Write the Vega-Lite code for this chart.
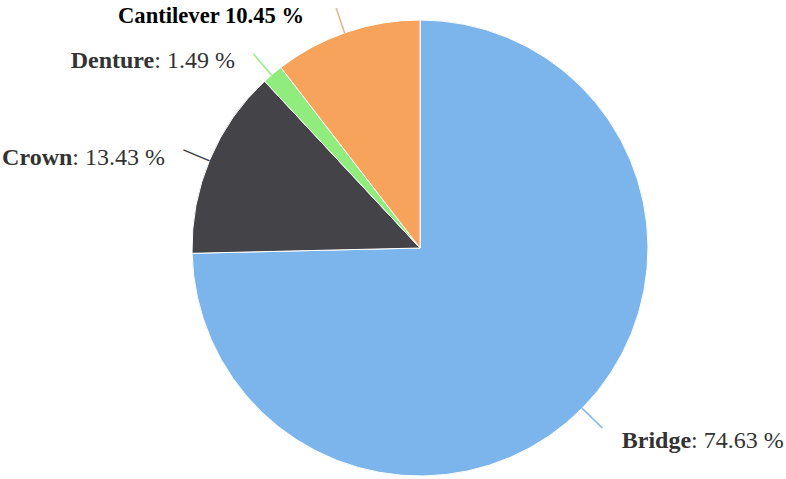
{
  "$schema": "https://vega.github.io/schema/vega-lite/v6.json",
  "width": 732,
  "height": 462,
  "autosize": {"type": "none"},
  "padding": {"left": 54, "top": 17, "right": 0, "bottom": 0},
  "background": "#ffffff",
  "view": {"stroke": null},
  "config": {"text": {"font": "Liberation Serif"}, "font": "Liberation Serif"},
  "data": {
    "values": [
      {"category": "Bridge", "value": 74.63, "rank": 1},
      {"category": "Crown", "value": 13.43, "rank": 2},
      {"category": "Denture", "value": 1.49, "rank": 3},
      {"category": "Cantilever", "value": 10.45, "rank": 4}
    ]
  },
  "transform": [
    {"calculate": "': ' + format(datum.value, '.2f') + ' %'", "as": "valueLabel"},
    {"calculate": "datum.category + ' ' + format(datum.value, '.2f') + ' %'", "as": "fullLabel"}
  ],
  "encoding": {
    "theta": {"field": "value", "type": "quantitative", "stack": true},
    "order": {"field": "rank", "type": "quantitative"},
    "detail": {"field": "category", "type": "nominal"}
  },
  "layer": [
    {
      "mark": {"type": "arc", "radius": 228, "stroke": "#ffffff", "strokeWidth": 1},
      "encoding": {
        "color": {
          "field": "category",
          "type": "nominal",
          "scale": {"domain": ["Bridge", "Crown", "Denture", "Cantilever"], "range": ["#7cb5ec", "#434348", "#90ed7d", "#f7a35c"]},
          "legend": null
        }
      }
    },
    {
      "mark": {"type": "text", "font": "Liberation Serif", "radius": 242, "fontSize": 28, "align": "center", "baseline": "middle", "angle": 44.33, "color": "#7cb5ec"},
      "encoding": {"text": {"condition": {"test": "datum.category === 'Bridge'", "value": "—"}, "value": ""}}
    },
    {
      "mark": {"type": "text", "font": "Liberation Serif", "radius": 242, "fontSize": 28, "align": "center", "baseline": "middle", "angle": 22.84, "color": "#434348"},
      "encoding": {"text": {"condition": {"test": "datum.category === 'Crown'", "value": "—"}, "value": ""}}
    },
    {
      "mark": {"type": "text", "font": "Liberation Serif", "radius": 242, "fontSize": 28, "align": "center", "baseline": "middle", "angle": 49.7, "color": "#90ed7d"},
      "encoding": {"text": {"condition": {"test": "datum.category === 'Denture'", "value": "—"}, "value": ""}}
    },
    {
      "mark": {"type": "text", "font": "Liberation Serif", "radius": 241, "fontSize": 26, "align": "center", "baseline": "middle", "angle": 71.19, "color": "#d9b07a"},
      "encoding": {"text": {"condition": {"test": "datum.category === 'Cantilever'", "value": "—"}, "value": ""}}
    },
    {
      "mark": {"type": "text", "font": "Liberation Serif", "radius": 258, "fontSize": 24, "fontWeight": "bold", "align": "left", "baseline": "alphabetic", "dx": 17.2, "dy": 19.4, "color": "#333333"},
      "encoding": {"text": {"condition": {"test": "datum.category === 'Bridge'", "field": "category", "type": "nominal"}, "value": ""}}
    },
    {
      "mark": {"type": "text", "font": "Liberation Serif", "radius": 258, "fontSize": 24, "align": "left", "baseline": "alphabetic", "dx": 86.5, "dy": 19.4, "color": "#333333"},
      "encoding": {"text": {"condition": {"test": "datum.category === 'Bridge'", "field": "valueLabel", "type": "nominal"}, "value": ""}}
    },
    {
      "mark": {"type": "text", "font": "Liberation Serif", "radius": 258, "fontSize": 24, "align": "right", "baseline": "alphabetic", "dx": -17.2, "dy": 17.2, "color": "#333333"},
      "encoding": {"text": {"condition": {"test": "datum.category === 'Crown'", "field": "valueLabel", "type": "nominal"}, "value": ""}}
    },
    {
      "mark": {"type": "text", "font": "Liberation Serif", "radius": 258, "fontSize": 24, "fontWeight": "bold", "align": "right", "baseline": "alphabetic", "dx": -109.9, "dy": 17.2, "color": "#333333"},
      "encoding": {"text": {"condition": {"test": "datum.category === 'Crown'", "field": "category", "type": "nominal"}, "value": ""}}
    },
    {
      "mark": {"type": "text", "font": "Liberation Serif", "radius": 258, "fontSize": 24, "align": "right", "baseline": "alphabetic", "dx": -18.2, "dy": 17.1, "color": "#333333"},
      "encoding": {"text": {"condition": {"test": "datum.category === 'Denture'", "field": "valueLabel", "type": "nominal"}, "value": ""}}
    },
    {
      "mark": {"type": "text", "font": "Liberation Serif", "radius": 258, "fontSize": 24, "fontWeight": "bold", "align": "right", "baseline": "alphabetic", "dx": -98.9, "dy": 17.1, "color": "#333333"},
      "encoding": {"text": {"condition": {"test": "datum.category === 'Denture'", "field": "category", "type": "nominal"}, "value": ""}}
    },
    {
      "mark": {"type": "text", "font": "Liberation Serif", "radius": 258, "fontSize": 22.6, "fontWeight": "bold", "align": "right", "baseline": "alphabetic", "dx": -32.8, "dy": 19.5, "color": "#000000"},
      "encoding": {"text": {"condition": {"test": "datum.category === 'Cantilever'", "field": "fullLabel", "type": "nominal"}, "value": ""}}
    }
  ]
}
